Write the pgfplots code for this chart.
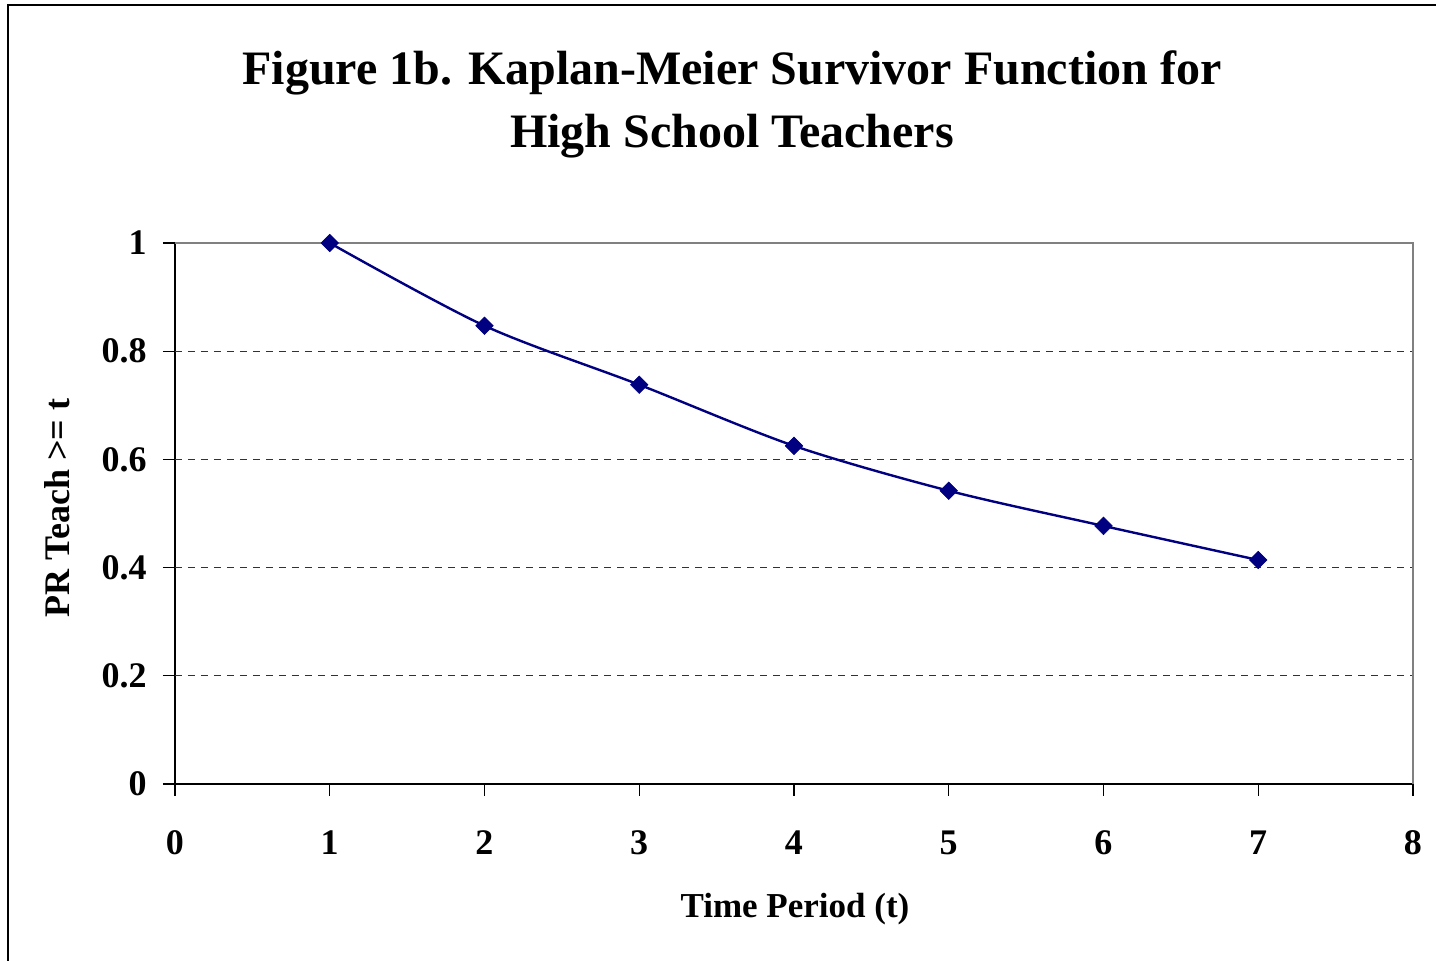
\documentclass[border=0pt]{standalone}
\usepackage{pgfplots}
\pgfplotsset{compat=1.18}
\usepackage{fontspec}
\setmainfont{Liberation Serif}
\definecolor{navyline}{RGB}{0,0,128}
\definecolor{gridgray}{RGB}{50,50,50}
\definecolor{boxgray}{RGB}{128,128,128}
\begin{document}
\begin{tikzpicture}[x=1pt,y=1pt]
\useasboundingbox (-87.5,-88.5) rectangle (630.5,392);
\draw[black, line width=0.7pt] (-83.5,-120) -- (-83.5,389.5) -- (700,389.5);
\begin{axis}[
  at={(0,0)}, anchor=origin,
  scale only axis,
  width=619pt, height=270.5pt,
  xmin=0, xmax=8, ymin=0, ymax=1,
  xtick={0,1,...,8}, ytick={0,0.2,0.4,0.6,0.8,1},
  axis x line*=bottom, axis y line*=left,
  axis line style={-, black, line width=0.6pt},
  tick align=outside,
  major tick length=6pt,
  tick style={black, line width=0.6pt},
  xtick pos=bottom, ytick pos=left,
  /pgf/number format/assume math mode=true,
  ticklabel style={font=\fontsize{18}{20}\selectfont\bfseries, inner sep=0pt},
  xticklabel style={anchor=base, yshift=-29.5pt},
  yticklabel style={anchor=east, xshift=-8pt},
  yticklabel={\pgfmathprintnumber[fixed, precision=1]{\tick}},
  clip=false,
]
\addplot[draw=none, forget plot] coordinates {(0,0)};
\pgfplotsinvokeforeach{0.2,0.4,0.6,0.8}{
  \draw[gridgray, line width=0.55pt, dash pattern=on 3.5pt off 3pt] (axis cs:0,#1) -- (axis cs:8,#1);
}
\draw[boxgray, line width=1.2pt] (axis cs:0,1) -- (axis cs:8,1) -- (axis cs:8,0);
\addplot[navyline, line width=1.2pt, smooth, tension=0.5,
  mark=square*, mark size=3.1pt, mark options={rotate=45, fill=navyline, draw=navyline, line width=0.3pt}]
  coordinates {
  (1,1.000)
  (2,0.847)
  (3,0.738)
  (4,0.625)
  (5,0.542)
  (6,0.477)
  (7,0.414)
};
\end{axis}
\node[anchor=base, inner sep=0pt, font=\fontsize{24}{27}\selectfont\bfseries] at (278.5,349.5) {Figure 1b. Kaplan-Meier Survivor Function for};
\node[anchor=base, inner sep=0pt, font=\fontsize{24}{27}\selectfont\bfseries] at (278.5,318) {High School Teachers};
\node[anchor=base, inner sep=0pt, font=\fontsize{17.5}{20}\selectfont\bfseries] at (310,-67) {Time Period (t)};
\node[anchor=base, inner sep=0pt, rotate=90, font=\fontsize{18}{20}\selectfont\bfseries] at (-52.5,138) {PR Teach >= t};
\end{tikzpicture}
\end{document}
